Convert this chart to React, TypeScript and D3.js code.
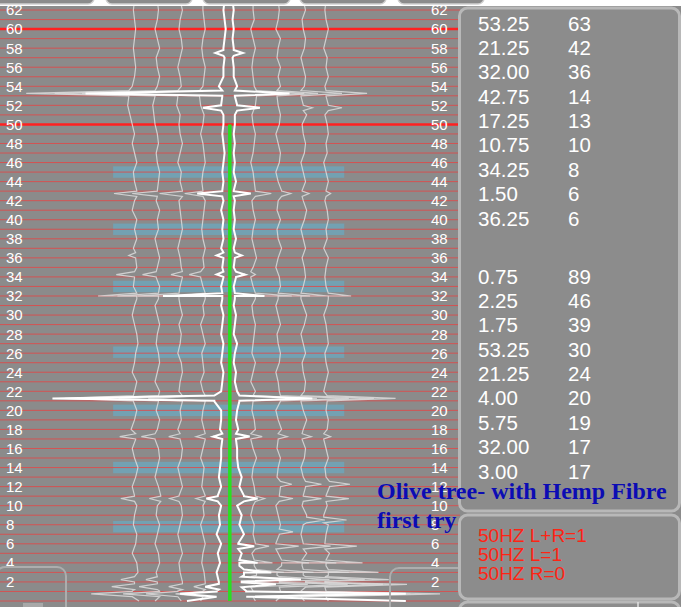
import React from "react";
import * as d3 from "d3";

const W = 684;
const H = 607;

// frequency axis
const tickValues = d3.range(2, 63, 2);
const gridValues = d3.range(0, 64);
const strongGrid = [50, 60];
const bandCenters = [45, 39, 33, 26.1, 20, 14, 7.8];

// peak tables shown in the side panel
const peaksA = ["53.25", "21.25", "32.00", "42.75", "17.25", "10.75", "34.25", "1.50", "36.25"];
const countsA = [63, 42, 36, 14, 13, 10, 8, 6, 6];
const peaksB = ["0.75", "2.25", "1.75", "53.25", "21.25", "4.00", "5.75", "32.00", "3.00"];
const countsB = [89, 46, 39, 30, 24, 20, 19, 17, 17];
const statusLines = ["50HZ L+R=1", "50HZ L=1", "50HZ R=0"];
const titleLines = ["Olive tree- with Hemp Fibre", "first try"];

// grey traces: base offset, wiggle per integer frequency (0..63), spikes [freq, reach]
const traceBase = [-41, -31, -21, -11, 11, 22, 33, 43];

const traceWiggle: number[][] = [
  [2, -1, 0, 1.5, 1, -1, 0.5, 1,
   -0.5, 0, 1, 0, -1, 0.5, 1.5, 0,
   -1, 0.5, -1.5, 0, 1, -0.5, 0, 1,
   -1, 0, 0.5, 1.5, 1, 0, -1, 0,
   1, -0.5, 0, 1, 0.5, -0.5, 1, 0,
   1, -1, 0, 1, 0, -0.5, 1, 0,
   -1, 0, -1, -2, -3, -2.5, -1, 0,
   0.5, 0, -0.5, 0, 0.5, 0, -0.5, 0],
  [-1, 1, 0, -0.5, 1, 0.5, -1, 0,
   1, -0.5, 0, 1.5, 0.5, -1, 0, 1,
   0.5, -1, 0, 1, -0.5, 0.5, 1, -1,
   0, 1, 0.5, -0.5, 0, 1, 0, -1,
   0.5, 1, -0.5, 0, 1, 0, -1, 0.5,
   0, 1, -0.5, 0, 0.5, 1, 0, -0.5,
   0.5, 0, -1, -1.5, -2, -1, 0, 1,
   0, -0.5, 1, 0, -1, 0, 0.5, 0],
  [0.5, -1, 1, 0, -0.5, 1, 0, -1,
   0, 1, 0.5, -0.5, 1, 0, -1, 0.5,
   1, 0, -1, 0.5, 0, 1, -0.5, 0,
   1, 0.5, -1, 0, 0.5, -0.5, 1, 0,
   -0.5, 0, 1, 0.5, 0, -1, 0, 1,
   0.5, 0, -0.5, 1, 0, 0.5, -1, 0,
   1, 0, -0.5, 0, -1.5, -1, 0.5, 0,
   -1, 0, 1, 0.5, -0.5, 0, 1, 0],
  [-1, 0, 1, 0.5, -0.5, 0, 1, 0,
   -1, 0.5, 0, 1, -0.5, 0, 0.5, -1,
   0, 1, 0.5, -0.5, 0, 1, 0, -1,
   0.5, 0, -0.5, 1, 0, -1, 0.5, 0,
   1, 0, -1, 0.5, 0, 1, 0, -0.5,
   0, 0.5, 1, 0, -0.5, 0, 1, 0.5,
   0, -1, 0, 0.5, -1, -1.5, 0, 0.5,
   1, 0, -0.5, 0, 1, 0.5, 0, 0],
  [1, 0, -1, 1.5, 0.5, -0.5, 1, 0,
   0.5, -1, 0, 1, 0.5, -0.5, 0, 1.5,
   0, -1, 1, 0.5, -0.5, 0, 1, -1,
   0, 1, -0.5, 0, 0.5, 1, 0, -0.5,
   1, 0, -1, 0, 1.5, 0.5, -0.5, 0,
   1, 0, -0.5, 1, 0.5, 0, -1, 0,
   0.5, 1, 0, -0.5, 1, 1.5, 0.5, 0,
   -0.5, 0, 1, 0, -1, 0.5, 0, 0],
  [-1, 1, 0.5, -0.5, 1.5, 0, -1, 0.5,
   1, 0, -1, 0.5, 1, -0.5, 0, 1,
   -0.5, 0, 1.5, 0, -1, 1, 0.5, 0,
   -1, 0.5, 1, 0, -0.5, 1, 0, -1,
   0, 1, 0.5, -1, 0, 1.5, 0, -0.5,
   1, -0.5, 0, 1.5, 0, -1, 0.5, 1,
   0, -1, 0.5, 1, 0, -0.5, 1, 0,
   1, -0.5, 0, 1, -1, 0, 0.5, 0],
  [0.5, -1, 1, 0, -0.5, 1.5, 0, -1,
   0, 1.5, -0.5, 0, 1, 0, -1, 0.5,
   1, -0.5, 0, 1.5, 0, -1, 0.5, 1,
   0, -0.5, 1, 0, -1, 0.5, 1.5, 0,
   -1, 0, 1, 0.5, -0.5, 1, 0, -1,
   0.5, 1.5, 0, -0.5, 1, 0, -1, 0.5,
   1, 0, -0.5, 1.5, 0, -1, 0.5, 1,
   0, -1, 0.5, 1, 0, -0.5, 1, 0],
  [1, 0, -0.5, 1, 0, 1.5, -0.5, 0,
   1, -1, 0.5, 0, 1.5, 0, -0.5, 1,
   0, -1, 0.5, 1, 0, 0.5, -1, 0,
   1, 0, -0.5, 1, 0.5, 0, -1, 0.5,
   1, 0, -0.5, 0, 1, -1, 0.5, 0,
   1, 0.5, -0.5, 0, 1, 0, -1, 0.5,
   0, 1, 0.5, -0.5, 1, 0, -0.5, 1,
   0, 0.5, -1, 0, 1, 0, -0.5, 0],
];

const traceSpikes: [number, number][][] = [
  [[53.25, -45], [42.75, -10], [36.25, -3], [34.25, -8], [32, -17], [21.25, -30], [17.25, -7], [10.75, -6], [2.25, -6], [1.5, -10], [0.75, -18]],
  [[53.25, -44], [42.75, -11], [34.25, -6], [32, -18], [21.25, -30], [17.25, -6], [10.75, -5], [2.25, -5], [1.5, -8], [0.75, -16]],
  [[53.25, -42], [42.75, -10], [34.25, -5], [32, -18], [21.25, -28], [17.25, -5], [10.75, -4], [1.5, -6], [0.75, -14]],
  [[53.25, -40], [42.75, -8], [34.25, -5], [32, -12], [21.25, -25], [17.25, -4], [10.75, -4], [1.5, -5], [0.75, -12]],
  [[53.25, 21], [42.75, 7], [34.25, 2], [32, 16], [21.25, 28], [17.25, 5], [10.75, 4], [5.75, 6], [4, 8], [3, 12], [2.25, 18], [1.75, 25], [0.75, 40]],
  [[53.25, 18], [42.75, 4], [32, 14], [21.25, 30], [17.25, 4], [12.25, 5], [10.75, 6], [7.25, 6], [5.75, 10], [4, 12], [3, 16], [2.25, 22], [1.75, 30], [0.75, 45]],
  [[53.25, 18], [51.75, 4], [42.75, 3], [32, 12], [21.25, 32], [17.25, 4], [12.25, 7], [10.75, 8], [8.5, 8], [5.75, 12], [4, 15], [3, 20], [2.25, 26], [1.75, 34], [0.75, 48]],
  [[53.25, 18], [51.75, 6], [42.75, 2], [32, 10], [21.25, 30], [17.25, 3], [12.25, 9], [10.75, 10], [8.5, 10], [5.75, 14], [4, 16], [3, 22], [2.25, 28], [1.75, 36], [0.75, 50]],
];

// main (summed) trace: left and right edges per integer frequency
const mainLeft = [
  -18, -5, -4, -5, -3.5, -4.5, -3, -5,
  -3.5, -4, -3, -4.5, -3, -4, -3.5, -3,
  -3, -2.5, -3.5, -3, -3, -6, -3, -2.5,
  -2, -3, -2.5, -2, -3, -2.5, -2, -3,
  -2.5, -3, -2, -2.5, -2, -3, -2, -2.5,
  -2, -3, -2, -2.5, -2, -2.5, -2, -1.5,
  -2, -2.5, -2, -2, -3, -2.5, -4, -2,
  -2, -1.5, -2, -1.5, -1, -1.5, -2, -1.5,
];
const mainRight = [
  78, 8, 6, 7, 5, 6, 4.5, 7,
  5, 6, 4, 7, 5, 6, 4.5, 4,
  4, 3.5, 4.5, 3.5, 4, 5, 4, 3,
  3.5, 2.5, 3, 4, 2.5, 3, 3.5, 2.5,
  3, 2.5, 3.5, 2.5, 3, 2.5, 3.5, 2.5,
  3, 2.5, 3, 2.5, 3.5, 2.5, 3, 2.5,
  3, 2.5, 3, 3, 4, 3, 4, 2.5,
  2.5, 2, 2.5, 2, 2.5, 2, 2.5, 2,
];
const mainSpikesLeft: [number, number][] = [
  [57.5, -3.5], [53.25, -60], [51.75, -8], [42.75, -11], [36.25, -3], [34.25, -3],
  [32, -26], [21.25, -71], [17.25, -4], [10.75, -5], [1.5, -6], [0.75, -16],
];
const mainSpikesRight: [number, number][] = [
  [57.5, 4], [53.25, 24], [51.75, 10], [42.75, 7.5], [36.25, 3], [34.25, 4],
  [32, 13], [21.25, 32], [17.25, 6], [10.75, 6], [5.75, 7], [4, 8], [3, 12],
  [2.25, 26], [1.75, 15], [0.75, 70],
];

const x = d3.scaleLinear().domain([-100, 100]).range([0, 456]);
const y = d3.scaleLinear().domain([0, 63]).range([601, 0.5]);

type Pt = { f: number; a: number };

function tracePoints(base: number, wiggle: number[], spikes: [number, number][], hw = 0.3): Pt[] {
  const pts: Pt[] = wiggle.map((w, f) => ({ f, a: base + w }));
  spikes.forEach(([f, r]) => {
    const w = wiggle[Math.round(f)] ?? 0;
    pts.push({ f: f - hw, a: base + w }, { f, a: base + w + r }, { f: f + hw, a: base + w });
  });
  return pts.filter((p) => p.f >= 0 && p.f <= 63).sort((a, b) => a.f - b.f);
}

const line = d3
  .line<Pt>()
  .x((d) => x(d.a))
  .y((d) => y(d.f));

const sans = "'Liberation Sans', Arial, sans-serif";
const serif = "'Liberation Serif', 'Times New Roman', serif";

const rowStep = 24.35;

export default function App() {
  const tabs = [
    [-20, 94],
    [106, 192],
    [203, 290],
    [300, 386],
    [398, 484],
  ];
  return (
    <svg
      width={W}
      height={H}
      style={{ position: "fixed", left: 0, top: 0, display: "block" }}
    >
      <rect x={0} y={0} width={W} height={H} fill="#8b8b8b" />

      {/* highlight bands */}
      {bandCenters.map((c) => (
        <rect
          key={"b" + c}
          x={x(-50.4)}
          y={y(c + 0.6)}
          width={x(51) - x(-50.4)}
          height={y(c - 0.6) - y(c + 0.6)}
          fill="#6fa4b8"
          opacity={0.85}
        />
      ))}

      {/* grid */}
      {gridValues.map((v) => (
        <line
          key={"g" + v}
          x1={0}
          x2={460}
          y1={y(v)}
          y2={y(v)}
          stroke={strongGrid.includes(v) ? "#ff2020" : "#e04a4a"}
          strokeWidth={strongGrid.includes(v) ? 2.5 : 1}
          opacity={strongGrid.includes(v) ? 1 : 0.85}
        />
      ))}

      {/* grey traces */}
      {traceBase.map((b, i) => (
        <path
          key={"t" + i}
          d={line(tracePoints(b, traceWiggle[i], traceSpikes[i])) || ""}
          fill="none"
          stroke="#dcdcdc"
          strokeWidth={1.2}
          opacity={0.85}
        />
      ))}

      {/* main trace */}
      <path
        d={line(tracePoints(0, mainLeft, mainSpikesLeft)) || ""}
        fill="none"
        stroke="#ffffff"
        strokeWidth={2}
      />
      <path
        d={line(tracePoints(0, mainRight, mainSpikesRight)) || ""}
        fill="none"
        stroke="#ffffff"
        strokeWidth={2}
      />
      <line x1={x(0.8)} x2={x(0.8)} y1={y(0)} y2={y(50)} stroke="#28e020" strokeWidth={3.5} />

      {/* axis labels */}
      {tickValues.map((v) => (
        <g key={"l" + v} fontFamily={sans} fontSize={15} fill="#ffffff">
          <text x={6} y={y(v)} dy="0.36em">
            {v}
          </text>
          <text x={431} y={y(v)} dy="0.36em">
            {v}
          </text>
        </g>
      ))}

      {/* bottom UI outlines */}
      <rect x={-4} y={567} width={70} height={52} rx={9} fill="none" stroke="#adadad" strokeWidth={2} />
      <rect x={23} y={603} width={20} height={5} fill="#a8a8a8" />
      <rect x={390} y={568} width={78} height={52} rx={9} fill="none" stroke="#adadad" strokeWidth={2} />

      {/* top strip with tabs */}
      <rect x={0} y={0} width={W} height={6} fill="#ffffff" />
      {tabs.map(([a, b]) => (
        <rect key={"tab" + a} x={a} y={-12} width={b - a} height={16} rx={6} fill="#8b8b8b" stroke="#cfcfcf" strokeWidth={1.5} />
      ))}
      <rect x={681} y={0} width={3} height={H} fill="#ffffff" />

      {/* side panels */}
      <rect x={459.5} y={8} width={220} height={503} rx={8} fill="#8c8c8c" stroke="#b8b8b8" strokeWidth={3} />
      <rect x={459.5} y={515} width={220} height={84} rx={8} fill="#8c8c8c" stroke="#b8b8b8" strokeWidth={3} />
      <rect x={459.5} y={602} width={220} height={20} rx={8} fill="#8c8c8c" stroke="#b8b8b8" strokeWidth={3} />
      <line x1={638} x2={638} y1={602} y2={607} stroke="#e0e0e0" strokeWidth={1.5} />

      <g fontFamily={sans} fontSize={20.5} fill="#ffffff">
        {peaksA.map((p, i) => (
          <g key={"a" + i}>
            <text x={478} y={30.7 + i * rowStep}>{p}</text>
            <text x={568} y={30.7 + i * rowStep}>{countsA[i]}</text>
          </g>
        ))}
        {peaksB.map((p, i) => (
          <g key={"bb" + i}>
            <text x={478} y={283.7 + i * rowStep}>{p}</text>
            <text x={568} y={283.7 + i * rowStep}>{countsB[i]}</text>
          </g>
        ))}
      </g>

      <g fontFamily={sans} fontSize={19} fill="#ff2414">
        {statusLines.map((s, i) => (
          <text key={s} x={478} y={541.7 + i * 19.3}>
            {s}
          </text>
        ))}
      </g>

      <g fontFamily={serif} fontSize={24} fontWeight="bold" fill="#0c0cb4">
        <text x={377} y={499}>{titleLines[0]}</text>
        <text x={377} y={528}>{titleLines[1]}</text>
      </g>
    </svg>
  );
}
